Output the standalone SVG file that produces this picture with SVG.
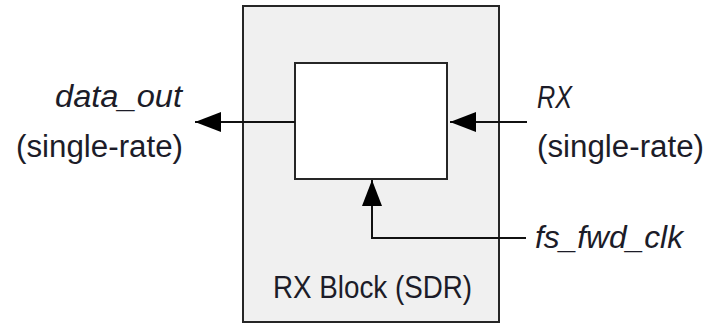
<svg xmlns="http://www.w3.org/2000/svg" width="713" height="324" viewBox="0 0 713 324">
<defs>
<style>
.box{stroke:#262626;stroke-width:2}
.wire{fill:none;stroke:#111;stroke-width:2}
text{font-family:"Liberation Sans",Arial,sans-serif;font-size:31px;fill:#1c1c28}
.it{font-style:italic}
</style>
<marker id="ah" viewBox="0 0 26 20" refX="26" refY="10" markerWidth="26" markerHeight="20" markerUnits="userSpaceOnUse" orient="auto">
<path d="M0,0 L26,10 L0,20 Z" fill="#000"/>
</marker>
</defs>
<rect width="713" height="324" fill="#fff"/>
<g id="rx_block">
<rect class="box" x="243" y="6" width="256" height="316" fill="#f0f0f0"/>
<text x="273" y="298" textLength="199" lengthAdjust="spacingAndGlyphs">RX Block (SDR)</text>
</g>
<g id="inner">
<rect class="box" x="295" y="63" width="152" height="116" fill="#fff"/>
</g>
<g id="data_out">
<text class="it" x="55" y="107" textLength="127" lengthAdjust="spacingAndGlyphs">data_out</text>
<text x="16" y="157" textLength="167" lengthAdjust="spacingAndGlyphs">(single-rate)</text>
</g>
<g id="rx_in">
<text class="it" x="537" y="108" textLength="35" lengthAdjust="spacingAndGlyphs">RX</text>
<text x="537" y="157" textLength="167" lengthAdjust="spacingAndGlyphs">(single-rate)</text>
</g>
<g id="clk">
<text class="it" x="535" y="248" textLength="148" lengthAdjust="spacingAndGlyphs">fs_fwd_clk</text>
</g>
<g id="connectors">
<path class="wire" d="M295,122 H195" marker-end="url(#ah)"/>
<path class="wire" d="M527,122 H450" marker-end="url(#ah)"/>
<path class="wire" d="M526,238 H372 V180" marker-end="url(#ah)"/>
</g>
</svg>
